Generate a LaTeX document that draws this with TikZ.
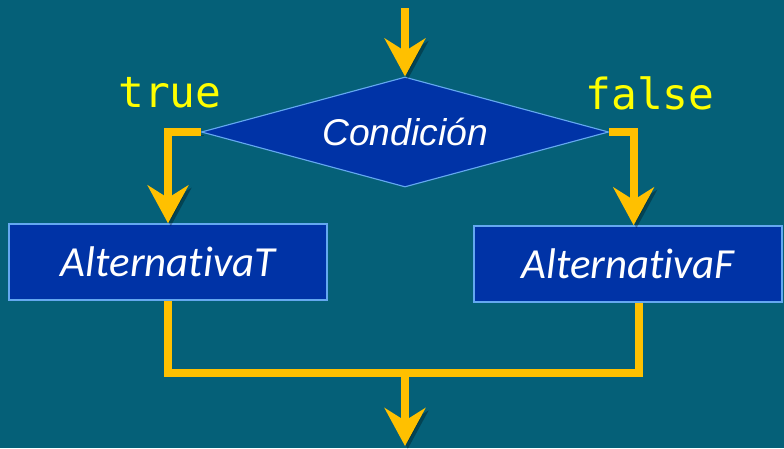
\documentclass[tikz,border=0pt]{standalone}
\usepackage{fontspec}
\newfontfamily\condfont{Liberation Sans}
\newfontfamily\altfont[Ligatures=NoCommon]{Carlito}
\newfontfamily\codefont{DejaVu Sans Mono}
\usetikzlibrary{shapes.geometric,arrows.meta}
\definecolor{bgteal}{RGB}{5,96,120}
\definecolor{boxblue}{RGB}{0,51,166}
\definecolor{edgeblue}{RGB}{100,168,240}
\definecolor{flowyellow}{RGB}{255,192,0}
\definecolor{labyellow}{RGB}{255,255,0}
\begin{document}
\begin{tikzpicture}[x=0.025cm,y=-0.025cm,
  flow/.style={draw=flowyellow, line width=5.7pt,
    preaction={draw=black, opacity=.3, transform canvas={xshift=2pt,yshift=-2pt}}},
  tip/.style={-{Stealth[length=27pt 0 0,width=29pt 0 0,inset=9pt 0]}},
  decision/.style={diamond, aspect=3.7, draw=edgeblue, fill=boxblue, line width=0.8pt,
    minimum width=10.18cm, minimum height=2.75cm, inner sep=0pt,
    text=white, font=\condfont\itshape\fontsize{26.5}{30}\selectfont},
  action/.style={rectangle, draw=edgeblue, fill=boxblue, line width=1pt,
    minimum height=1.9cm, inner sep=0pt,
    text=white, font=\altfont\itshape\fontsize{30.5}{34}\selectfont},
  branch/.style={text=labyellow, font=\codefont\fontsize{30.5}{34}\selectfont}]
\fill[bgteal] (0,0) rectangle (784,448);
\useasboundingbox (0,0) rectangle (784,448);
%%%%%%%%%%%%%%%%%%%%%%%%%%%%%%% Selection if / else
\coordinate(in) at (405,8);
\coordinate(join) at (405,373);
\coordinate(out) at (405,446);
\node[decision](cond) at (405,132){Condición};
\node[action, minimum width=7.95cm](altT) at (168,262){AlternativaT};
\node[action, minimum width=7.7cm](altF) at (628,264){AlternativaF};
\node[branch](true) at (170,93){true};
\node[branch](false) at (650,93){false};
\draw[flow, tip] (in) -- (cond.north);
\draw[flow, tip] (cond.west) -| (altT.north);
\draw[flow, tip] (cond.east) -| ([xshift=4]altF.north);
\draw[flow] (altT.south) |- (join) -| ([xshift=8]altF.south);
\draw[flow, tip] (join) -- (out);
\end{tikzpicture}
\end{document}
